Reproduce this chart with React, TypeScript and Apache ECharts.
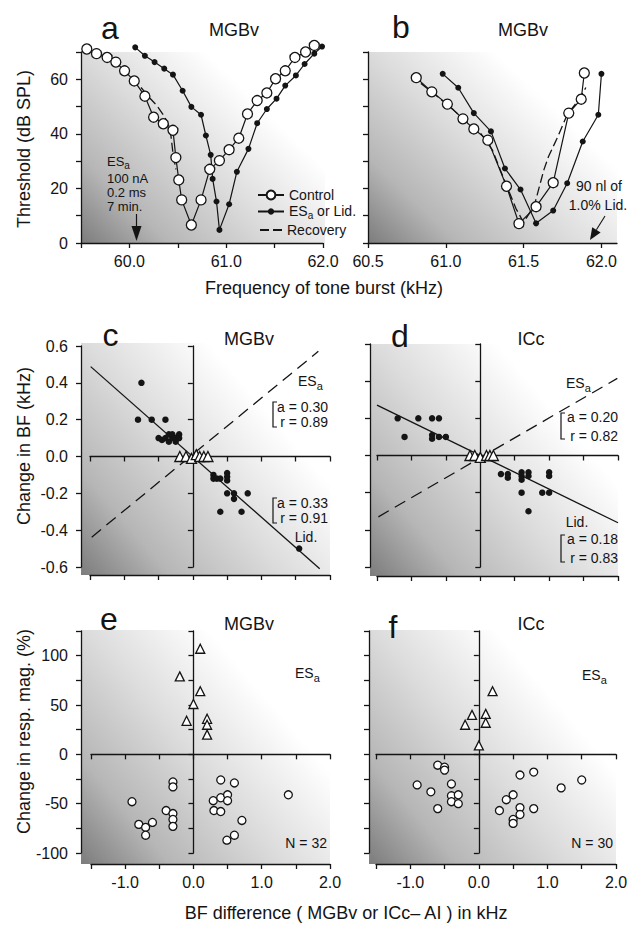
import React, { useEffect, useRef } from 'react';
import * as echarts from 'echarts';

const FONT = '"Liberation Sans", Arial, Helvetica, sans-serif';
const INK = '#141414';

// ---------- Panel a (MGBv): [frequency kHz, threshold dB SPL] ----------
const aControl = [
  [59.56, 71.1], [59.66, 69.4], [59.77, 68.0], [59.86, 66.3], [59.95, 63.1], [60.05, 59.4],
  [60.16, 53.8], [60.25, 46.1], [60.35, 43.7], [60.45, 41.3], [60.48, 31.3], [60.51, 23.1],
  [60.54, 15.8], [60.64, 6.6], [60.74, 15.8], [60.83, 27.0], [60.93, 30.2], [61.03, 34.2],
  [61.13, 38.4], [61.22, 47.3], [61.32, 52.2], [61.42, 55.0], [61.51, 60.2], [61.61, 63.1],
  [61.71, 68.0], [61.82, 70.0], [61.91, 72.4],
];
const aESLid = [
  [60.06, 71.7], [60.16, 68.6], [60.26, 66.3], [60.36, 63.9], [60.45, 61.7], [60.55, 55.8],
  [60.64, 49.9], [60.74, 47.0], [60.79, 39.4], [60.84, 32.3], [60.86, 23.5], [60.9, 15.2],
  [60.93, 4.8], [61.03, 14.2], [61.11, 26.1], [61.23, 34.5], [61.32, 43.9], [61.42, 49.1],
  [61.52, 52.9], [61.61, 57.7], [61.72, 61.4], [61.81, 65.6], [61.91, 69.4], [61.99, 72.0],
];
const aRecovery = [
  [60.12, 57.0], [60.2, 53.5], [60.28, 50.5], [60.36, 46.5], [60.42, 42.0], [60.45, 33.0], [60.48, 27.0],
];

// ---------- Panel b (MGBv) ----------
const bControl = [
  [60.81, 60.6], [60.91, 55.4], [61.01, 50.9], [61.11, 45.5], [61.18, 41.8], [61.27, 37.7],
  [61.39, 20.8], [61.47, 7.1], [61.58, 13.3], [61.69, 22.1], [61.79, 47.6], [61.87, 52.7], [61.89, 62.3],
];
const bESLid = [
  [60.98, 62.0], [61.08, 56.9], [61.18, 47.6], [61.29, 40.9], [61.38, 27.3], [61.48, 19.6],
  [61.58, 7.2], [61.69, 11.9], [61.78, 21.9], [61.88, 37.2], [61.98, 47.0], [62.0, 62.0],
];
const bRecovery = [
  [60.84, 58.5], [60.95, 53.5], [61.05, 48.7], [61.15, 43.5], [61.22, 40.5], [61.3, 34.0],
  [61.35, 26.8], [61.45, 12.7], [61.5, 7.5], [61.57, 14.0], [61.63, 26.8], [61.66, 31.7],
  [61.72, 39.0], [61.78, 47.0], [61.86, 53.0], [61.9, 57.0],
];

// ---------- Panel c (MGBv): [BF difference kHz, change in BF kHz] ----------
const cLid = [
  [-0.75, 0.4], [-0.8, 0.2], [-0.6, 0.2], [-0.4, 0.2],
  [-0.5, 0.1], [-0.45, 0.09], [-0.4, 0.1], [-0.35, 0.08], [-0.35, 0.12], [-0.3, 0.1], [-0.3, 0.12],
  [-0.25, 0.1], [-0.25, 0.08], [-0.2, 0.12], [-0.2, 0.1],
  [0.3, -0.1], [0.3, -0.12], [0.35, -0.12], [0.4, -0.12], [0.5, -0.09], [0.5, -0.11], [0.5, -0.13],
  [0.5, -0.2], [0.6, -0.2], [0.6, -0.23], [0.8, -0.2], [0.4, -0.3], [0.71, -0.3], [1.55, -0.5],
];
const cES = [[-0.19, 0.0], [-0.1, 0.0], [-0.02, -0.01], [0.05, 0.01], [0.1, 0.0], [0.16, 0.0], [0.22, 0.0]];
const cLidFit = [[-1.49, 0.488], [1.85, -0.609]];
const cESFit = [[-1.475, -0.438], [1.83, 0.571]];

// ---------- Panel d (ICc) ----------
const dLid = [
  [-1.2, 0.2], [-0.9, 0.2], [-0.7, 0.2], [-0.6, 0.2], [-1.1, 0.1], [-0.7, 0.11], [-0.7, 0.09],
  [-0.6, 0.1], [-0.5, 0.1], [0.3, -0.1], [0.4, -0.1], [0.4, -0.12], [0.6, -0.09], [0.6, -0.11],
  [0.6, -0.13], [0.7, -0.09], [0.7, -0.11], [1.0, -0.09], [1.0, -0.11], [0.6, -0.2], [0.9, -0.2],
  [1.0, -0.2], [0.7, -0.3],
];
const dES = [[-0.15, 0.0], [-0.08, 0.0], [0.0, -0.01], [0.09, 0.0], [0.14, 0.0], [0.19, 0.0]];
const dLidFit = [[-1.5, 0.271], [2.0, -0.362]];
const dESFit = [[-1.48, -0.33], [1.99, 0.415]];

// ---------- Panel e (MGBv): [BF difference kHz, change in response magnitude %] ----------
const eES = [[0.1, 107], [-0.2, 79], [0.1, 64], [0.0, 51], [-0.1, 34], [0.2, 36], [0.2, 30], [0.2, 20]];
const eLid = [
  [-0.9, -48], [-0.8, -71], [-0.7, -74], [-0.7, -82], [-0.6, -69], [-0.4, -57], [-0.3, -28],
  [-0.3, -33], [-0.3, -60], [-0.3, -66], [-0.3, -73], [0.29, -47], [0.3, -57], [0.4, -26],
  [0.4, -44], [0.4, -58], [0.5, -41], [0.5, -47], [0.6, -29], [0.71, -67], [0.6, -82],
  [0.49, -87], [1.39, -41],
];

// ---------- Panel f (ICc) ----------
const fES = [[0.2, 64], [-0.1, 40], [-0.2, 30], [0.1, 41], [0.1, 32], [0.0, 9]];
const fLid = [
  [-0.6, -11], [-0.5, -13], [-0.5, -16], [-0.9, -31], [-0.7, -38], [-0.4, -30], [-0.4, -42],
  [-0.4, -48], [-0.3, -41], [-0.3, -50], [-0.6, -55], [0.6, -21], [0.8, -18], [1.5, -26],
  [1.2, -34], [0.5, -41], [0.4, -46], [0.3, -57], [0.6, -54], [0.6, -61], [0.8, -55],
  [0.5, -66], [0.5, -70],
];

// ---------- Tick labels ----------
const aXLabels = [60, 61, 62];
const aYLabels = [0, 20, 40, 60];
const bXLabels = [60.5, 61, 61.5, 62];
const cYLabels = [-0.6, -0.4, -0.2, 0, 0.2, 0.4, 0.6];
const eYLabels = [-100, -50, 0, 50, 100];
const eXLabels = [-1, 0, 1, 2];

const fmtList = (list: number[], digits: number) => (v: number) =>
  list.some((l) => Math.abs(l - v) < 1e-6) ? (Math.abs(v) < 1e-9 ? (0).toFixed(digits) : v.toFixed(digits)) : '';

function axis(gridIndex: number, min: number, max: number, interval: number, o: any = {}) {
  const tick: any = { show: true, inside: false, length: 5, lineStyle: { color: INK, width: 1.3 } };
  if (o.tickValues) tick.customValues = o.tickValues;
  const label: any = o.labels
    ? { show: true, color: INK, fontSize: 16, fontFamily: FONT, margin: o.margin ?? 12, formatter: o.formatter }
    : { show: false };
  if (o.labels && o.labelValues) label.customValues = o.labelValues;
  return {
    type: 'value', gridIndex, min, max, interval,
    position: o.position,
    offset: o.offset || 0,
    axisLine: { show: true, onZero: !!o.onZero, lineStyle: { color: INK, width: 1.3 } },
    axisTick: tick,
    axisLabel: label,
    splitLine: { show: false },
    axisPointer: { show: false },
  };
}

const grad = () => ({
  type: 'linear', x: 1, y: 0.2, x2: 0, y2: 1,
  colorStops: [
    { offset: 0, color: '#ffffff' }, { offset: 0.2, color: '#ffffff' },
    { offset: 0.5, color: '#dcdcdc' }, { offset: 0.78, color: '#b6b6b6' },
    { offset: 1, color: '#7c7c7c' },
  ],
});
const bgRect = (x: number, y: number, w: number, h: number) => ({
  type: 'rect', z: -10, silent: true, shape: { x, y, width: w, height: h }, style: { fill: grad() },
});
const txt = (x: number, y: number, text: string, size: number, align = 'center', extra: any = {}) => ({
  type: 'text', x, y, z: 20, silent: true, ...extra,
  style: { text, fontSize: size, fontFamily: FONT, fill: INK, align, verticalAlign: 'middle' },
});
const subTxt = (x: number, top: number, main: string, sub: string, size: number) => ({
  type: 'text', x, y: top, z: 20, silent: true,
  style: {
    text: `{m|${main}}{s|${sub}}`, fontFamily: FONT, fill: INK, align: 'left', verticalAlign: 'top',
    rich: {
      m: { fontSize: size, lineHeight: size + 1, verticalAlign: 'top', fontFamily: FONT, fill: INK },
      s: { fontSize: size - 3, lineHeight: size - 4, padding: [Math.round(size * 0.4), 0, 0, 0], verticalAlign: 'top', fontFamily: FONT, fill: INK },
    },
  },
});
const bracket = (x: number, y1: number, y2: number) => ({
  type: 'polyline', z: 20, silent: true,
  shape: { points: [[x + 4, y1], [x, y1], [x, y2], [x + 4, y2]] },
  style: { stroke: INK, lineWidth: 1.2, fill: null },
});

function lineSeries(name: string, xi: number, data: number[][], kind: 'open' | 'filled' | 'dash', z: number) {
  const base: any = { type: 'line', name, xAxisIndex: xi, yAxisIndex: xi, data, clip: false, z, animation: false, silent: true };
  if (kind === 'open') {
    return { ...base, symbol: 'circle', symbolSize: 10, itemStyle: { color: '#ffffff', borderColor: INK, borderWidth: 1.3 }, lineStyle: { color: INK, width: 1.2 } };
  }
  if (kind === 'filled') {
    return { ...base, symbol: 'circle', symbolSize: 6, itemStyle: { color: INK }, lineStyle: { color: INK, width: 1.2 } };
  }
  return { ...base, symbol: 'none', itemStyle: { color: 'rgba(0,0,0,0)', borderWidth: 0 }, lineStyle: { color: INK, width: 1.3, type: [9, 4] } };
}
const fitSeries = (xi: number, data: number[][], dashed: boolean) => ({
  type: 'line', xAxisIndex: xi, yAxisIndex: xi, data, symbol: 'none', clip: false, z: 2, silent: true,
  lineStyle: { color: INK, width: 1.3, type: dashed ? [12, 7] : 'solid' },
});
const dotSeries = (xi: number, data: number[][], size: number) => ({
  type: 'scatter', xAxisIndex: xi, yAxisIndex: xi, data, symbol: 'circle', symbolSize: size, z: 4, silent: true,
  itemStyle: { color: INK, opacity: 1 },
});
const openSeries = (xi: number, data: number[][], symbol: string, size: number) => ({
  type: 'scatter', xAxisIndex: xi, yAxisIndex: xi, data, symbol, symbolSize: size, z: 5, silent: true,
  itemStyle: { color: '#ffffff', borderColor: INK, borderWidth: 1.3, opacity: 1 },
});

function buildOption(): any {
  const grids = [
    { left: 81, top: 52, width: 242, height: 191 },
    { left: 368, top: 52, width: 249, height: 191 },
    { left: 90, top: 346, width: 240, height: 221 },
    { left: 377, top: 344, width: 241, height: 223 },
    { left: 91, top: 631, width: 239, height: 222 },
    { left: 376, top: 631, width: 240, height: 222 },
  ].map((g) => ({ ...g, show: false, containLabel: false, outerBoundsMode: 'none' }));

  const xAxis = [
    axis(0, 59.5, 62, 0.5, { position: 'bottom', labels: true, formatter: fmtList(aXLabels, 1), margin: 10 }),
    axis(1, 60.5, 62.1, 0.5, { position: 'bottom', labels: true, tickValues: bXLabels, labelValues: bXLabels, formatter: fmtList(bXLabels, 1), margin: 10 }),
    axis(2, -1.5, 2, 0.5, { position: 'bottom', offset: 8 }),
    axis(2, -1.5, 2, 0.5, { position: 'bottom', onZero: true }),
    axis(3, -1.5, 2, 0.5, { position: 'bottom', offset: 9 }),
    axis(3, -1.5, 2, 0.5, { position: 'bottom', onZero: true }),
    axis(4, -1.5, 2, 0.5, { position: 'bottom', offset: 11, labels: true, formatter: fmtList(eXLabels, 1), margin: 10 }),
    axis(4, -1.5, 2, 0.5, { position: 'bottom', onZero: true }),
    axis(5, -1.5, 2, 0.5, { position: 'bottom', offset: 11, labels: true, formatter: fmtList(eXLabels, 1), margin: 10 }),
    axis(5, -1.5, 2, 0.5, { position: 'bottom', onZero: true }),
  ];
  const yAxis = [
    axis(0, 0, 70, 10, { position: 'left', labels: true, formatter: fmtList(aYLabels, 0), margin: 13 }),
    axis(1, 0, 70, 10, { position: 'left' }),
    axis(2, -0.6, 0.6, 0.2, { position: 'left', offset: 9, labels: true, formatter: fmtList(cYLabels, 1), margin: 13 }),
    axis(2, -0.6, 0.6, 0.2, { position: 'left', onZero: true }),
    axis(3, -0.6, 0.6, 0.2, { position: 'left', offset: 7 }),
    axis(3, -0.6, 0.6, 0.2, { position: 'left', onZero: true }),
    axis(4, -100, 125, 25, { position: 'left', offset: 10, labels: true, formatter: fmtList(eYLabels, 0), margin: 13 }),
    axis(4, -100, 125, 25, { position: 'left', onZero: true }),
    axis(5, -100, 125, 25, { position: 'left', offset: 7 }),
    axis(5, -100, 125, 25, { position: 'left', onZero: true }),
  ];

  const series = [
    lineSeries('Recovery', 0, aRecovery, 'dash', 2),
    lineSeries('ESa or Lid.', 0, aESLid, 'filled', 3),
    lineSeries('Control', 0, aControl, 'open', 4),
    { ...lineSeries('Recovery', 1, bRecovery, 'dash', 2), yAxisIndex: 1 },
    { ...lineSeries('ESa or Lid.', 1, bESLid, 'filled', 3), yAxisIndex: 1 },
    { ...lineSeries('Control', 1, bControl, 'open', 4), yAxisIndex: 1 },
    fitSeries(2, cLidFit, false), fitSeries(2, cESFit, true),
    dotSeries(2, cLid, 6.5), openSeries(2, cES, 'triangle', 10),
    fitSeries(4, dLidFit, false), fitSeries(4, dESFit, true),
    dotSeries(4, dLid, 6.5), openSeries(4, dES, 'triangle', 10),
    openSeries(6, eES, 'triangle', 9), openSeries(6, eLid, 'circle', 8),
    openSeries(8, fES, 'triangle', 9), openSeries(8, fLid, 'circle', 8),
  ];

  const legendBase: any = {
    orient: 'horizontal', padding: 0, selectedMode: false, itemGap: 0,
    textStyle: {
      fontSize: 14, fontFamily: FONT, color: INK,
      rich: {
        m: { fontSize: 14, lineHeight: 16, verticalAlign: 'top', fontFamily: FONT, color: INK },
        s: { fontSize: 10, lineHeight: 10, padding: [7, 0, 0, 0], verticalAlign: 'top', fontFamily: FONT, color: INK },
      },
    },
    formatter: (name: string) => (name === 'ESa or Lid.' ? '{m|ES}{s|a}{m| or Lid.}' : name),
  };
  const legend = [
    { ...legendBase, data: ['Control'], left: 257, top: 188, itemWidth: 26, itemHeight: 11 },
    { ...legendBase, data: ['ESa or Lid.'], left: 257, top: 203.5, itemWidth: 26, itemHeight: 8 },
    { ...legendBase, data: ['Recovery'], left: 259, top: 223, itemWidth: 22, itemHeight: 8 },
  ];

  const graphic = [
    bgRect(81, 52, 244, 191), bgRect(368, 52, 249, 191),
    bgRect(81, 343, 249, 232), bgRect(370, 344, 248, 232),
    bgRect(81, 630, 249, 234), bgRect(369, 630, 247, 234),
    // panel letters and titles
    txt(110, 28, 'a', 32), txt(234, 30, 'MGBv', 18),
    txt(401, 27, 'b', 32), txt(523, 30, 'MGBv', 18),
    txt(110.5, 335, 'c', 32), txt(249, 338.7, 'MGBv', 18),
    txt(400, 335.6, 'd', 32), txt(531, 338.7, 'ICc', 18),
    txt(109, 619, 'e', 32), txt(249, 623.7, 'MGBv', 18),
    txt(393, 627, 'f', 32), txt(531, 623.7, 'ICc', 18),
    // axis titles
    txt(24, 149, 'Threshold (dB SPL)', 18, 'center', { rotation: Math.PI / 2 }),
    txt(24, 446, 'Change in BF (kHz)', 18, 'center', { rotation: Math.PI / 2 }),
    txt(24, 731.5, 'Change in resp. mag. (%)', 18, 'center', { rotation: Math.PI / 2 }),
    txt(324, 288, 'Frequency of tone burst (kHz)', 18),
    txt(346, 913, 'BF difference ( MGBv or ICc– AI ) in kHz', 18),
    // panel a annotation
    subTxt(107, 155, 'ES', 'a', 13),
    txt(107, 178.5, '100 nA', 13, 'left'),
    txt(107, 192.5, '0.2 ms', 13, 'left'),
    txt(107, 206.5, '7 min.', 13, 'left'),
    { type: 'line', z: 20, silent: true, shape: { x1: 136.5, y1: 214, x2: 136.5, y2: 228 }, style: { stroke: INK, lineWidth: 1.2 } },
    { type: 'polygon', z: 20, silent: true, shape: { points: [[131.5, 226], [141.5, 226], [136.5, 241]] }, style: { fill: INK } },
    // panel b annotation
    txt(599, 186, '90 nl of', 14),
    txt(598, 205, '1.0% Lid.', 14),
    { type: 'line', z: 20, silent: true, shape: { x1: 605, y1: 216, x2: 596.4, y2: 229.8 }, style: { stroke: INK, lineWidth: 1.1 } },
    { type: 'polygon', z: 20, silent: true, shape: { points: [[600.6, 232.5], [592.2, 227.2], [590, 240]] }, style: { fill: INK } },
    // panel c annotation
    subTxt(298, 374, 'ES', 'a', 14),
    txt(328, 406.5, 'a = 0.30', 14, 'right'), txt(328, 421.5, 'r = 0.89', 14, 'right'),
    bracket(273, 402, 427),
    txt(328, 503, 'a = 0.33', 14, 'right'), txt(328, 518, 'r = 0.91', 14, 'right'),
    bracket(273, 498, 523),
    txt(306, 537, 'Lid.', 14),
    // panel d annotation
    subTxt(566, 376, 'ES', 'a', 14),
    txt(618, 417, 'a = 0.20', 14, 'right'), txt(618, 436, 'r = 0.82', 14, 'right'),
    bracket(561, 413, 439),
    txt(577, 522, 'Lid.', 14),
    txt(618, 539, 'a = 0.18', 14, 'right'), txt(618, 558, 'r = 0.83', 14, 'right'),
    bracket(561, 535, 562),
    // panel e / f annotation
    subTxt(295, 666, 'ES', 'a', 14), txt(327, 843, 'N = 32', 14, 'right'),
    subTxt(582, 668, 'ES', 'a', 14), txt(613, 843, 'N = 30', 14, 'right'),
  ];

  return {
    animation: false,
    backgroundColor: '#ffffff',
    textStyle: { fontFamily: FONT },
    grid: grids,
    xAxis,
    yAxis,
    legend,
    series,
    graphic,
  };
}

export default function App() {
  const ref = useRef<HTMLDivElement>(null);
  useEffect(() => {
    if (!ref.current) return;
    const chart = echarts.init(ref.current, null, { renderer: 'svg' });
    chart.setOption(buildOption());
    return () => chart.dispose();
  }, []);
  return <div ref={ref} style={{ position: 'absolute', left: 0, top: 0, width: 642, height: 941 }} />;
}
